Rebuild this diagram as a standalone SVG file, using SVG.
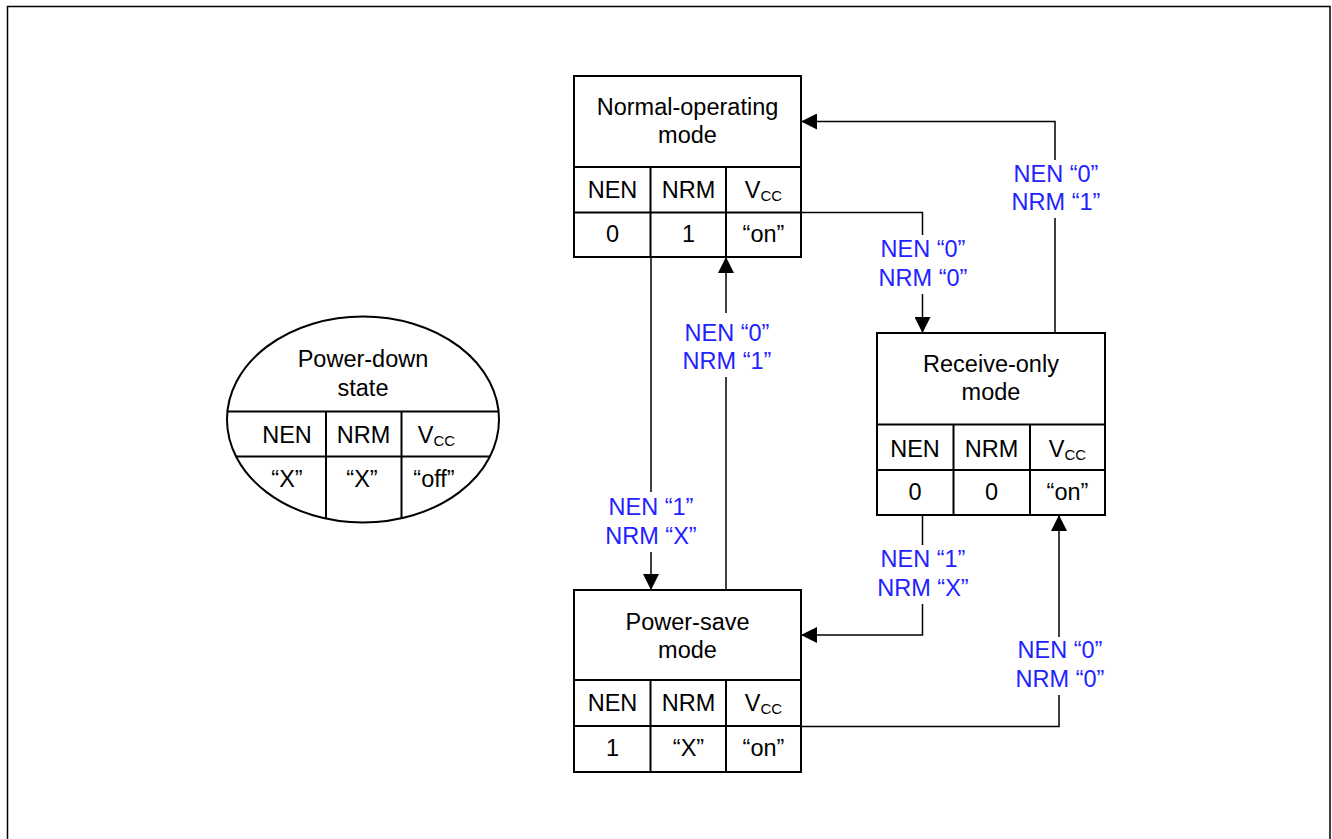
<svg xmlns="http://www.w3.org/2000/svg" width="1332" height="839" viewBox="0 0 1332 839">
<style>
text{font-family:"Liberation Sans",Arial,sans-serif;font-size:23.5px;text-anchor:middle;fill:#000}
.lbl{fill:#2222ff}
.sub{font-size:15px}
.box{fill:#fff;stroke:#000;stroke-width:2}
.grid{stroke:#000;stroke-width:2;fill:none}
.conn{stroke:#000;stroke-width:1.5;fill:none}
</style>
<defs>
<marker id="arr" viewBox="0 0 16 16" refX="16" refY="8" markerWidth="16" markerHeight="16" markerUnits="userSpaceOnUse" orient="auto">
<path d="M0,0 L16,8 L0,16 Z" fill="#000"/>
</marker>
<clipPath id="ell"><ellipse cx="363" cy="419.5" rx="136" ry="103"/></clipPath>
</defs>
<rect width="1332" height="839" fill="#fff"/>
<path d="M7.5,839 V6.5 H1330 V839" fill="none" stroke="#000" stroke-width="1.5"/>

<g id="connectors">
<path class="conn" d="M1055,333 V218 M1055,160 V121.5 H801" marker-end="url(#arr)"/>
<path class="conn" d="M801,212.5 H922.5 V235 M922.5,294 V333" marker-end="url(#arr)"/>
<path class="conn" d="M651,257 V492 M651,552 V590" marker-end="url(#arr)"/>
<path class="conn" d="M726,590 V377 M726,313 V257" marker-end="url(#arr)"/>
<path class="conn" d="M922.5,515 V545 M922.5,604 V635 H801" marker-end="url(#arr)"/>
<path class="conn" d="M801,726.5 H1059 V695 M1059,637 V515" marker-end="url(#arr)"/>
<text class="lbl" x="1056" y="181.5">NEN “0”</text>
<text class="lbl" x="1056" y="210">NRM “1”</text>
<text class="lbl" x="923" y="257">NEN “0”</text>
<text class="lbl" x="923" y="286">NRM “0”</text>
<text class="lbl" x="651" y="515">NEN “1”</text>
<text class="lbl" x="651" y="544">NRM “X”</text>
<text class="lbl" x="727" y="340.5">NEN “0”</text>
<text class="lbl" x="727" y="369">NRM “1”</text>
<text class="lbl" x="923" y="567">NEN “1”</text>
<text class="lbl" x="923" y="596">NRM “X”</text>
<text class="lbl" x="1060" y="658">NEN “0”</text>
<text class="lbl" x="1060" y="686.5">NRM “0”</text>
</g>

<g id="normal">
<rect class="box" x="574" y="76" width="227" height="181"/>
<path class="grid" d="M574,167 H801 M574,212.5 H801 M650.5,167 V257 M726,167 V257"/>
<text x="687.5" y="115">Normal-operating</text>
<text x="687.5" y="143">mode</text>
<text x="612.5" y="197.5">NEN</text>
<text x="688.5" y="197.5">NRM</text>
<text x="763.5" y="197.5">V<tspan class="sub" dy="3">CC</tspan></text>
<text x="612.5" y="241.5">0</text>
<text x="688.5" y="241.5">1</text>
<text x="763.5" y="241.5">“on”</text>
</g>

<g id="receive">
<rect class="box" x="877" y="333" width="228" height="182"/>
<path class="grid" d="M877,424.5 H1105 M877,470 H1105 M953.5,424.5 V515 M1030,424.5 V515"/>
<text x="991" y="371.5">Receive-only</text>
<text x="991" y="400">mode</text>
<text x="915" y="456.5">NEN</text>
<text x="991.5" y="456.5">NRM</text>
<text x="1067.5" y="456.5">V<tspan class="sub" dy="3">CC</tspan></text>
<text x="915" y="500">0</text>
<text x="991.5" y="500">0</text>
<text x="1067.5" y="500">“on”</text>
</g>

<g id="powersave">
<rect class="box" x="574" y="590" width="227" height="182"/>
<path class="grid" d="M574,680 H801 M574,726 H801 M650.5,680 V772 M726,680 V772"/>
<text x="687.5" y="629.5">Power-save</text>
<text x="687.5" y="657.5">mode</text>
<text x="612.5" y="710.5">NEN</text>
<text x="688.5" y="710.5">NRM</text>
<text x="763.5" y="710.5">V<tspan class="sub" dy="3">CC</tspan></text>
<text x="612.5" y="755.5">1</text>
<text x="688.5" y="755.5">“X”</text>
<text x="763.5" y="755.5">“on”</text>
</g>

<g id="powerdown">
<ellipse cx="363" cy="419.5" rx="136" ry="103" fill="#fff" stroke="#000" stroke-width="2"/>
<g clip-path="url(#ell)">
<path class="grid" d="M220,411.5 H506 M220,456.5 H506 M326,411.5 V530 M401.5,411.5 V530"/>
</g>
<text x="363" y="366.5">Power-down</text>
<text x="363" y="396">state</text>
<text x="287" y="443">NEN</text>
<text x="363.5" y="443">NRM</text>
<text x="436.5" y="443">V<tspan class="sub" dy="3">CC</tspan></text>
<text x="287" y="486.5">“X”</text>
<text x="362" y="486.5">“X”</text>
<text x="434" y="486.5">“off”</text>
</g>
</svg>
